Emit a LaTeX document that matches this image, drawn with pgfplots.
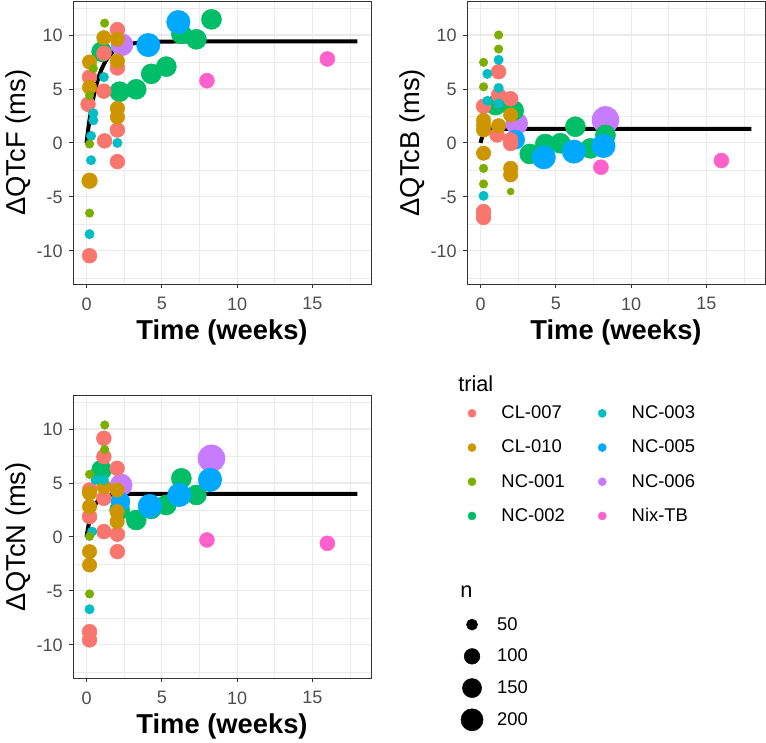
\documentclass[border=0pt]{standalone}
\usepackage{pgfplots}
\pgfplotsset{compat=1.18}
\usepackage{pgfplotstable}
\usepackage{fontspec}
\setmainfont{Liberation Sans}

\definecolor{cCLa}{HTML}{F8766D}
\definecolor{cCLb}{HTML}{CD9600}
\definecolor{cNCa}{HTML}{7CAE00}
\definecolor{cNCb}{HTML}{00BE67}
\definecolor{cNCc}{HTML}{00BFC4}
\definecolor{cNCe}{HTML}{00A9FF}
\definecolor{cNCf}{HTML}{C77CFF}
\definecolor{cNix}{HTML}{FF61CC}
\definecolor{gridc}{HTML}{EBEBEB}
\definecolor{framec}{HTML}{333333}
\definecolor{ticklab}{HTML}{4D4D4D}

% time (weeks), change (ms), n, trial
\pgfplotstableread{
t v n c
2.35 9.10 200 NCf
1.00 8.45 165 NCb
2.20 4.75 165 NCb
3.30 4.97 165 NCb
4.30 6.40 165 NCb
5.30 7.07 165 NCb
6.30 10.10 165 NCb
7.30 9.60 165 NCb
8.30 11.45 165 NCb
4.10 9.07 225 NCe
6.10 11.20 225 NCe
8.00 5.77 92 Nix
16.00 7.78 92 Nix
0.20 6.10 90 CLa
0.10 3.58 90 CLa
1.15 8.30 90 CLa
1.15 4.80 90 CLa
1.20 0.19 90 CLa
2.05 10.50 90 CLa
2.05 6.95 90 CLa
2.05 1.20 90 CLa
2.05 -1.73 90 CLa
0.20 -10.45 90 CLa
0.20 7.50 85 CLb
0.20 5.15 85 CLb
0.20 -3.50 100 CLb
1.15 9.75 85 CLb
2.05 9.60 85 CLb
2.05 7.60 85 CLb
2.05 3.20 85 CLb
2.05 2.40 85 CLb
1.15 6.10 36 NCc
0.45 2.75 36 NCc
0.45 2.10 36 NCc
0.30 0.65 36 NCc
2.05 0.00 36 NCc
0.30 -1.60 36 NCc
0.20 -8.45 36 NCc
1.20 11.10 30 NCa
0.45 6.90 30 NCa
0.20 4.40 30 NCa
0.20 -0.10 30 NCa
0.20 -6.50 30 NCa
}\tabF

\pgfplotstableread{
t v n c
2.40 1.80 200 NCf
8.30 2.13 300 NCf
1.00 3.50 165 NCb
2.20 3.00 165 NCb
3.27 -1.02 165 NCb
4.30 -0.10 165 NCb
5.30 -0.03 165 NCb
6.30 1.50 165 NCb
7.30 -0.50 165 NCb
8.30 0.74 165 NCb
2.30 0.30 150 NCe
4.20 -1.33 225 NCe
6.20 -0.80 225 NCe
8.17 -0.28 225 NCe
8.00 -2.25 92 Nix
16.00 -1.63 92 Nix
1.20 6.60 90 CLa
1.20 4.44 90 CLa
2.00 4.10 90 CLa
0.20 3.40 90 CLa
1.10 0.74 90 CLa
2.00 0.28 90 CLa
2.00 -0.05 90 CLa
0.20 -6.36 90 CLa
0.20 -6.90 90 CLa
0.20 2.10 85 CLb
0.20 1.60 85 CLb
0.20 1.20 85 CLb
0.20 -0.95 85 CLb
2.00 2.60 85 CLb
1.20 1.60 85 CLb
2.00 -2.35 85 CLb
2.00 -2.96 85 CLb
1.20 7.70 36 NCc
0.45 6.40 36 NCc
1.20 5.10 36 NCc
1.20 3.65 36 NCc
0.45 3.90 36 NCc
0.20 -4.90 36 NCc
1.20 10.00 30 NCa
1.20 8.70 30 NCa
0.20 7.47 30 NCa
0.20 5.20 30 NCa
0.20 -2.35 30 NCa
0.20 -3.80 30 NCa
2.00 -4.50 20 NCa
}\tabB

\pgfplotstableread{
t v n c
2.30 4.81 200 NCf
8.30 7.28 300 NCf
1.00 6.20 165 NCb
2.20 2.50 165 NCb
3.30 1.57 165 NCb
4.30 2.60 165 NCb
5.30 2.96 165 NCb
6.30 5.43 165 NCb
7.30 3.89 165 NCb
8.30 5.40 165 NCb
2.25 3.27 150 NCe
4.20 2.87 225 NCe
6.16 3.89 225 NCe
8.20 5.28 225 NCe
8.00 -0.28 92 Nix
16.00 -0.59 92 Nix
1.15 9.14 90 CLa
1.15 7.44 90 CLa
2.03 6.36 90 CLa
0.20 4.35 90 CLa
1.15 3.58 90 CLa
0.20 1.88 90 CLa
1.15 0.50 90 CLa
2.05 0.25 90 CLa
2.05 -1.36 90 CLa
0.20 -8.77 90 CLa
0.20 -9.54 90 CLa
0.20 4.05 85 CLb
1.15 4.66 85 CLb
2.03 4.35 85 CLb
0.20 2.81 85 CLb
2.03 2.35 85 CLb
2.03 1.42 85 CLb
0.20 -1.36 85 CLb
0.20 -2.60 85 CLb
0.60 5.28 36 NCc
1.15 5.28 36 NCc
0.37 0.50 36 NCc
0.20 -6.70 36 NCc
1.21 10.37 30 NCa
1.20 8.10 30 NCa
0.20 5.80 30 NCa
0.20 0.05 30 NCa
0.20 -5.28 30 NCa
}\tabN

\pgfplotsset{
  panel/.style={
    scale only axis, width=223.5pt, height=212.5pt,
    xmin=-0.9, xmax=18.9, ymin=-13.1, ymax=13.15,
    xtick={0,5,10,15}, ytick={-10,-5,0,5,10},
    minor xtick={2.5,7.5,12.5,17.5},
    minor ytick={-12.5,-7.5,-2.5,2.5,7.5,12.5},
    grid=both,
    major grid style={draw=gridc, line width=0.8pt},
    minor grid style={draw=gridc, line width=0.4pt},
    axis line style={draw=framec, line width=0.7pt},
    tick style={draw=framec, line width=0.7pt},
    tick align=outside, major tick length=3pt, minor tick length=0pt,
    tick pos=left,
    /pgf/number format/assume math mode=true,
    ticklabel style={font=\fontsize{13.5}{16}\selectfont, text=ticklab},
    xticklabel style={anchor=north, inner sep=0pt, yshift=-6.75pt},
    yticklabel style={anchor=east, inner sep=0pt, xshift=-4.5pt},
    xlabel={Time (weeks)},
    xlabel style={font=\fontsize{20.5}{24}\selectfont\bfseries,
      at={(axis description cs:0.5,-0.194)}, anchor=base},
    ylabel style={font=\fontsize{20.5}{24}\selectfont,
      at={(axis description cs:-0.1846,0.5)}, anchor=center},
  },
  pts/.style={
    scatter, only marks, scatter src=explicit symbolic,
    scatter/classes={
      CLa={mark=*, draw=cCLa, fill=cCLa},
      CLb={mark=*, draw=cCLb, fill=cCLb},
      NCa={mark=*, draw=cNCa, fill=cNCa},
      NCb={mark=*, draw=cNCb, fill=cNCb},
      NCc={mark=*, draw=cNCc, fill=cNCc},
      NCe={mark=*, draw=cNCe, fill=cNCe},
      NCf={mark=*, draw=cNCf, fill=cNCf},
      Nix={mark=*, draw=cNix, fill=cNix}},
    visualization depends on={0.585*sqrt(\thisrow{n}) \as \rad},
    scatter/@pre marker code/.append style={/tikz/mark size=\rad},
  },
  fit/.style={black, line width=3pt, no marks},
}

\begin{document}
\begin{tikzpicture}
\useasboundingbox (0,0) rectangle (574.5pt,-556.5pt);

% ---- QTcF
\begin{axis}[panel, at={(54.75pt,-0.75pt)}, anchor=north west, ylabel={ΔQTcF (ms)}]
\addplot[pts] table[x=t, y=v, meta=c] {\tabF};
\addplot[fit] coordinates {(0,0) (0.05,0.59) (0.1,1.15) (0.15,1.66) (0.2,2.15) (0.3,3.03) (0.4,3.81) (0.5,4.49) (0.65,5.36) (0.8,6.08) (1,6.84) (1.25,7.55) (1.5,8.06) (1.75,8.43) (2,8.70) (2.5,9.04) (3,9.21) (4,9.35) (5,9.39) (6,9.40) (18,9.40)};
\end{axis}

% ---- QTcB
\begin{axis}[panel, at={(350.25pt,-0.75pt)}, anchor=north west, ylabel={ΔQTcB (ms)}]
\addplot[pts] table[x=t, y=v, meta=c] {\tabB};
\addplot[fit] coordinates {(0,0) (0.05,0.29) (0.1,0.51) (0.15,0.69) (0.2,0.82) (0.3,1.01) (0.4,1.12) (0.5,1.19) (0.65,1.25) (0.8,1.28) (1,1.29) (1.25,1.30) (18,1.30)};
\end{axis}

% ---- QTcN
\begin{axis}[panel, at={(54.75pt,-296.25pt)}, anchor=north west, ylabel={ΔQTcN (ms)}]
\addplot[pts] table[x=t, y=v, meta=c] {\tabN};
\addplot[fit] coordinates {(0,0) (0.05,0.45) (0.1,0.85) (0.15,1.21) (0.2,1.52) (0.3,2.05) (0.4,2.47) (0.5,2.80) (0.65,3.16) (0.8,3.41) (1,3.64) (1.25,3.80) (1.5,3.89) (1.75,3.94) (2,3.97) (2.5,3.99) (3,4.00) (18,4.00)};
\end{axis}

% ---- legend: trial
\node[anchor=west, font=\fontsize{16.3}{19}\selectfont, inner sep=0pt] at (343.5pt,-288pt) {trial};
\begin{axis}[hide axis, scale only axis, width=20pt, height=20pt,
  xmin=0, xmax=1, ymin=0, ymax=1,
  at={(346.5pt,-302.5pt)}, anchor=north west,
  legend columns=2, legend cell align=left,
  legend style={at={(0,1)}, anchor=north west, draw=none, fill=none,
    inner sep=0pt, outer sep=0pt, font=\fontsize{13.8}{16}\selectfont,
    row sep=10.65pt, nodes={inner sep=0pt, outer sep=0pt},
    /tikz/every odd column/.append style={column sep=14.6pt},
    /tikz/every even column/.append style={column sep=15.6pt}},
  legend image code/.code={\path[draw=none, fill=none] (0pt,-7.5pt) rectangle (15pt,7.5pt);
    \draw[#1] plot coordinates {(7.5pt,0pt)};}]
\addlegendimage{only marks, mark=*, mark size=3pt, draw=cCLa, fill=cCLa}
\addlegendentry{\makebox[52.5pt][l]{CL-007}}
\addlegendimage{only marks, mark=*, mark size=3pt, draw=cNCc, fill=cNCc}
\addlegendentry{\makebox[52.5pt][l]{NC-003}}
\addlegendimage{only marks, mark=*, mark size=3pt, draw=cCLb, fill=cCLb}
\addlegendentry{\makebox[52.5pt][l]{CL-010}}
\addlegendimage{only marks, mark=*, mark size=3pt, draw=cNCe, fill=cNCe}
\addlegendentry{\makebox[52.5pt][l]{NC-005}}
\addlegendimage{only marks, mark=*, mark size=3pt, draw=cNCa, fill=cNCa}
\addlegendentry{\makebox[52.5pt][l]{NC-001}}
\addlegendimage{only marks, mark=*, mark size=3pt, draw=cNCf, fill=cNCf}
\addlegendentry{\makebox[52.5pt][l]{NC-006}}
\addlegendimage{only marks, mark=*, mark size=3pt, draw=cNCb, fill=cNCb}
\addlegendentry{\makebox[52.5pt][l]{NC-002}}
\addlegendimage{only marks, mark=*, mark size=3pt, draw=cNix, fill=cNix}
\addlegendentry{\makebox[52.5pt][l]{Nix-TB}}
\end{axis}

% ---- legend: n
\node[anchor=west, font=\fontsize{16.3}{19}\selectfont, inner sep=0pt] at (345pt,-444pt) {n};
\begin{axis}[hide axis, scale only axis, width=20pt, height=20pt,
  xmin=0, xmax=1, ymin=0, ymax=1,
  at={(345.75pt,-459.95pt)}, anchor=north west,
  legend cell align=left,
  legend style={at={(0,1)}, anchor=north west, draw=none, fill=none,
    inner sep=0pt, outer sep=0pt, font=\fontsize{13.8}{16}\selectfont,
    row sep=6.8pt, nodes={inner sep=0pt, outer sep=0pt},
    /tikz/every odd column/.append style={column sep=10.5pt}},
  legend image code/.code={\path[draw=none, fill=none] (0pt,-8.5pt) rectangle (16.5pt,8.5pt);
    \draw[#1] plot coordinates {(8.25pt,0pt)};}]
\addlegendimage{only marks, mark=*, mark size=4.14pt, black}
\addlegendentry{50}
\addlegendimage{only marks, mark=*, mark size=5.85pt, black}
\addlegendentry{100}
\addlegendimage{only marks, mark=*, mark size=7.16pt, black}
\addlegendentry{150}
\addlegendimage{only marks, mark=*, mark size=8.27pt, black}
\addlegendentry{200}
\end{axis}
\end{tikzpicture}
\end{document}
